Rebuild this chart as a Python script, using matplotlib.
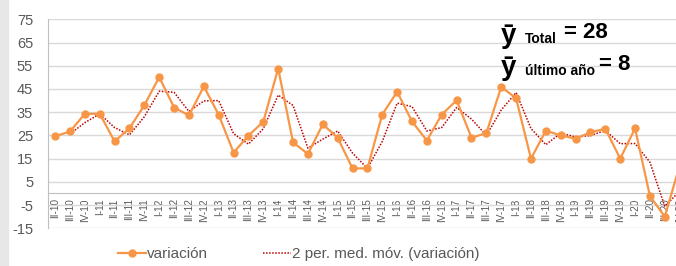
import matplotlib
matplotlib.use("Agg")
import matplotlib.pyplot as plt
import matplotlib.patches as patches
import pandas as pd

plt.rcParams['font.family'] = ['Liberation Sans', 'DejaVu Sans']

# Quarter labels II-10 .. IV-20
quarters = ['II-10', 'III-10', 'IV-10']
for yr in range(11, 21):
    for q in ['I', 'II', 'III', 'IV']:
        quarters.append('%s-%d' % (q, yr))

# variacion values
variacion = [24.6, 26.7, 34.3, 34.3, 22.4, 28.1, 38.0, 50.1, 37.0, 33.6,
             46.1, 33.9, 17.6, 24.9, 30.9, 53.8, 22.0, 17.0, 29.8, 24.0,
             10.8, 10.8, 34.0, 43.8, 31.0, 22.8, 34.0, 40.1, 24.0, 26.0,
             45.9, 41.0, 15.0, 27.0, 25.0, 23.6, 26.3, 27.9, 15.0, 28.0,
             -1.1, -10.0, 12.0]

ytick_vals = [75, 65, 55, 45, 35, 25, 15, 5, -5, -15]

W, H = 676, 266
fig = plt.figure(figsize=(W / 100, H / 100), dpi=100)

# grey strip at left edge
fig.patches.append(patches.Rectangle((0, 0), 8 / W, 1, transform=fig.transFigure,
                                     color='#e7e7e7', zorder=0))

left, right, top, bot = 47.7, 687.1, 19.3, 228.3
ax = fig.add_axes([left / W, 1 - bot / H, (right - left) / W, (bot - top) / H])

# spine position first (it resets tick styling)
for sp in ['top', 'right']:
    ax.spines[sp].set_visible(False)
ax.spines['bottom'].set_position(('data', 0))
ax.spines['bottom'].set_color('#bfbfbf')
ax.spines['left'].set_color('#bfbfbf')

x = list(range(len(quarters)))
s = pd.Series(variacion)
mov = s.rolling(2).mean()

ax.plot(x, mov, color='#c00000', linestyle=(0, (1, 1)), linewidth=1.1, zorder=3,
        label='2 per. med. móv. (variación)')
ax.plot(x, variacion, color='#f79646', linewidth=1.6, marker='o', markersize=5,
        zorder=4, label='variación')

ax.set_xlim(-0.5, len(quarters) - 0.5)
ax.set_ylim(-15, 75)
ax.set_yticks(ytick_vals)
ax.set_yticklabels([str(v) for v in ytick_vals])
ax.set_xticks(x)
ax.set_xticklabels(quarters, rotation=90, fontsize=7.2, color='#595959', va='top')
ax.tick_params(axis='y', labelsize=10.5, labelcolor='#595959', length=0, pad=10.5)
ax.tick_params(axis='x', length=0, pad=3.5)

ax.grid(axis='y', color='#d9d9d9', linewidth=1)
ax.set_axisbelow(True)

# legend at bottom
h, l = ax.get_legend_handles_labels()
fig.legend(h[::-1], l[::-1], loc='center', bbox_to_anchor=(299 / W, 1 - 254 / H),
           ncol=2, frameon=False, fontsize=11, handlelength=1.8, handletextpad=0.1,
           columnspacing=3.6, labelcolor='#595959')

# mean annotations
def ft(px, py, txt, size):
    fig.text(px / W, 1 - py / H, txt, fontsize=size, fontweight='bold',
             va='baseline', ha='left', color='black')

ft(501, 43, 'ȳ', 20)
ft(525, 43, 'Total', 10)
ft(564, 38, '= 28', 16)
ft(501, 75, 'ȳ', 20)
ft(525, 75, 'último año', 10)
ft(599, 70, '= 8', 16)

fig.savefig('out.png', dpi=100)
